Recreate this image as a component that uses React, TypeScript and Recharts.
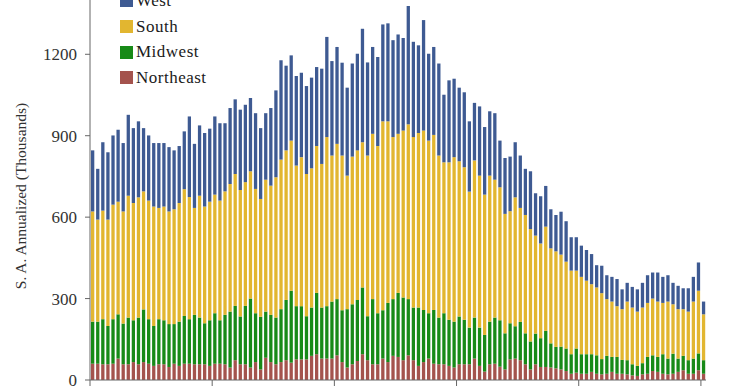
import React from 'react';
import { BarChart, Bar, XAxis, YAxis, Legend } from 'recharts';

// Monthly new home sales by region, May 2000 – May 2010 (S.A. annualized, thousands)
const startYear = 2000;
const startMonth = 4; // May (0-based)
const monthNames = ['Jan', 'Feb', 'Mar', 'Apr', 'May', 'Jun', 'Jul', 'Aug', 'Sep', 'Oct', 'Nov', 'Dec'];

const northeast = [
  60, 60, 58, 58, 60, 79, 58, 58, 66, 58, 66, 60, 52, 58, 58, 48, 60, 52, 60, 60,
  58, 58, 58, 52, 60, 60, 58, 46, 73, 58, 58, 46, 66, 39, 82, 66, 58, 66, 73, 64,
  76, 76, 76, 89, 95, 79, 79, 79, 91, 66, 46, 58, 70, 95, 73, 58, 58, 79, 66, 89,
  85, 73, 91, 73, 52, 66, 79, 60, 58, 58, 52, 46, 58, 58, 58, 79, 52, 31, 58, 60,
  49, 39, 76, 79, 73, 58, 39, 58, 48, 48, 46, 43, 39, 33, 23, 27, 23, 23, 30, 23,
  21, 23, 30, 23, 23, 21, 17, 15, 21, 23, 33, 30, 23, 21, 23, 30, 36, 23, 23, 36, 23,
];

const midwest = [
  155, 155, 166, 141, 164, 163, 150, 172, 154, 172, 194, 164, 147, 166, 162, 158, 146, 163, 176, 164,
  182, 172, 151, 168, 186, 160, 182, 206, 200, 176, 215, 254, 180, 194, 170, 174, 172, 195, 222, 265,
  196, 196, 159, 178, 226, 188, 193, 210, 207, 191, 215, 221, 225, 246, 162, 240, 188, 178, 218, 209,
  236, 231, 207, 194, 215, 192, 167, 198, 172, 188, 170, 169, 176, 164, 135, 151, 141, 135, 157, 170,
  171, 133, 133, 119, 141, 114, 103, 113, 106, 133, 89, 79, 84, 83, 72, 89, 72, 72, 65, 68,
  56, 66, 55, 62, 51, 52, 41, 37, 41, 62, 58, 55, 72, 58, 74, 49, 53, 50, 56, 62, 50,
];

const south = [
  406, 376, 400, 392, 422, 415, 413, 449, 432, 443, 435, 437, 440, 410, 419, 415, 423, 437, 467, 450,
  394, 449, 430, 437, 437, 441, 455, 470, 486, 466, 456, 469, 458, 434, 486, 476, 517, 551, 551, 553,
  518, 549, 524, 513, 541, 529, 623, 538, 572, 570, 492, 544, 551, 535, 592, 609, 616, 696, 669, 597,
  586, 615, 644, 628, 643, 661, 636, 645, 597, 556, 580, 606, 572, 562, 501, 579, 560, 517, 538, 508,
  490, 440, 413, 475, 420, 436, 414, 361, 349, 384, 350, 352, 339, 320, 308, 287, 285, 271, 258, 250,
  243, 209, 204, 187, 187, 216, 209, 200, 205, 199, 209, 204, 189, 210, 182, 182, 172, 179, 210, 231, 169,
];

const west = [
  225, 187, 252, 248, 255, 265, 252, 298, 276, 280, 233, 240, 234, 239, 234, 237, 217, 210, 213, 297,
  236, 259, 271, 269, 288, 285, 251, 280, 275, 296, 285, 270, 279, 261, 245, 286, 320, 366, 312, 314,
  330, 311, 324, 334, 291, 351, 369, 348, 357, 342, 324, 343, 356, 418, 343, 320, 328, 357, 361, 357,
  366, 341, 436, 351, 323, 407, 320, 324, 339, 249, 302, 289, 271, 276, 259, 212, 255, 249, 237, 245,
  172, 206, 201, 203, 193, 170, 213, 156, 174, 150, 144, 134, 158, 149, 123, 123, 115, 113, 111, 82,
  101, 88, 91, 100, 73, 69, 76, 82, 91, 102, 96, 107, 96, 97, 79, 86, 77, 86, 91, 104, 47,
];

const yTicks = [0, 300, 600, 900, 1200];
const xTickIndexes = [0, 24, 48, 72, 96, 120];

const series = [
  { key: 'northeast', name: 'Northeast', color: '#A4534D' },
  { key: 'midwest', name: 'Midwest', color: '#178A17' },
  { key: 'south', name: 'South', color: '#E2B630' },
  { key: 'west', name: 'West', color: '#3E5A92' },
];

const data = northeast.map((_, i) => {
  const m = (startMonth + i) % 12;
  const y = startYear + Math.floor((startMonth + i) / 12);
  return {
    i,
    month: `${monthNames[m]} ${y}`,
    northeast: northeast[i],
    midwest: midwest[i],
    south: south[i],
    west: west[i],
  };
});

const FONT = '"Liberation Serif", "Times New Roman", serif';

const renderLegend = () => (
  <div style={{ fontFamily: FONT, fontSize: 17, letterSpacing: 0.5, color: '#1a1a1a' }}>
    {[...series].reverse().map((s) => (
      <div key={s.key} style={{ display: 'flex', alignItems: 'center', height: 25.7 }}>
        <span style={{ width: 13, height: 13, background: s.color, display: 'inline-block', marginRight: 3 }} />
        <span>{s.name}</span>
      </div>
    ))}
  </div>
);

export default function App() {
  return (
    <div style={{ position: 'absolute', left: 0, top: 0, width: 740, height: 389, background: '#fff' }}>
      <BarChart
        width={740}
        height={389}
        data={data}
        margin={{ top: 0, right: 34, bottom: 0, left: 0 }}
        barCategoryGap={0}
      >
        <XAxis
          type="number"
          dataKey="i"
          domain={[-0.5, 120.5]}
          ticks={xTickIndexes.map((t) => t - 0.5)}
          tickFormatter={() => ''}
          interval={0}
          height={9}
          tickSize={6}
          stroke="#666"
          axisLine={{ stroke: '#666' }}
          tickLine={{ stroke: '#666' }}
          allowDataOverflow
        />
        <YAxis
          type="number"
          domain={[0, 1400]}
          ticks={yTicks}
          interval={0}
          width={90}
          tickSize={5}
          tickMargin={8}
          stroke="#666"
          tick={{ fill: '#333', fontFamily: FONT, fontSize: 17 }}
          label={{
            value: 'S. A. Annualized (Thousands)',
            angle: -90,
            position: 'insideLeft',
            offset: 20,
            dy: 6,
            style: { textAnchor: 'middle', fontFamily: FONT, fontSize: 15.5, fill: '#333' },
          }}
        />
        <Legend
          layout="vertical"
          align="center"
          verticalAlign="middle"
          content={renderLegend}
          wrapperStyle={{ position: 'absolute', left: 120, top: -12, width: 'auto' }}
        />
        {series.map((s) => (
          <Bar
            key={s.key}
            dataKey={s.key}
            name={s.name}
            stackId="a"
            fill={s.color}
            barSize={3.3}
            isAnimationActive={false}
          />
        ))}
      </BarChart>
    </div>
  );
}
